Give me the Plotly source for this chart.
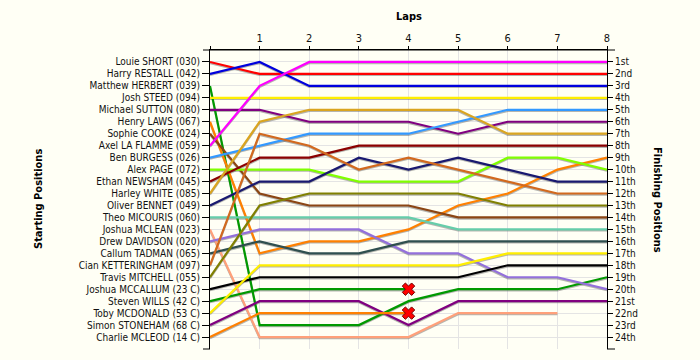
import plotly.graph_objects as go

starting_names = [
    "Louie SHORT (030)", "Harry RESTALL (042)", "Matthew HERBERT (039)", "Josh STEED (094)",
    "Michael SUTTON (080)", "Henry LAWS (067)", "Sophie COOKE (024)", "Axel LA FLAMME (059)",
    "Ben BURGESS (026)", "Alex PAGE (072)", "Ethan NEWSHAM (045)", "Harley WHITE (085)",
    "Oliver BENNET (049)", "Theo MICOURIS (060)", "Joshua MCLEAN (023)", "Drew DAVIDSON (020)",
    "Callum TADMAN (065)", "Cian KETTERINGHAM (097)", "Travis MITCHELL (055)",
    "Joshua MCCALLUM (23 C)", "Steven WILLS (42 C)", "Toby MCDONALD (53 C)",
    "Simon STONEHAM (68 C)", "Charlie MCLEOD (14 C)",
]
finishing_labels = ["1st", "2nd", "3rd", "4th", "5th", "6th", "7th", "8th", "9th", "10th",
                    "11th", "12th", "13th", "14th", "15th", "16th", "17th", "18th", "19th",
                    "20th", "21st", "22nd", "23rd", "24th"]
laps = [0, 1, 2, 3, 4, 5, 6, 7, 8]
lap_labels = ["", "1", "2", "3", "4", "5", "6", "7", "8"]

# position of each driver (in starting order) after each lap; None = not running
pos_lap0 = [1, 2, 3, 4, 5, 6, 7, 8, 9, 10, 11, 12, 13, 14, 15, 16, 17, 18, 19, 20, 21, 22, 23, 24]
pos_lap1 = [2, 1, 23, 4, 5, 17, 12, 3, 8, 10, 9, 6, 11, 14, 24, 15, 16, 7, 13, 19, 20, 18, 21, 22]
pos_lap2 = [2, 3, 23, 4, 6, 16, 13, 1, 7, 10, 9, 5, 11, 14, 24, 15, 17, 8, 12, 19, 20, 18, 21, 22]
pos_lap3 = [2, 3, 23, 4, 6, 16, 13, 1, 7, 11, 8, 5, 9, 14, 24, 15, 17, 10, 12, 19, 20, 18, 21, 22]
pos_lap4 = [2, 3, 21, 4, 6, 15, 13, 1, 7, 11, 8, 5, 10, 14, 24, 17, 16, 9, 12, 19, 20, 18, 23, 22]
pos_lap5 = [2, 3, 20, 4, 7, 13, 14, 1, 6, 11, 8, 5, 9, 15, 22, 17, 16, 10, 12, 19, None, 18, 21, None]
pos_lap6 = [2, 3, 20, 4, 6, 12, 14, 1, 5, 9, 8, 7, 10, 15, 22, 19, 16, 11, 13, 18, None, 17, 21, None]
pos_lap7 = [2, 3, 20, 4, 6, 10, 14, 1, 5, 9, 8, 7, 11, 15, 22, 19, 16, 12, 13, 18, None, 17, 21, None]
pos_lap8 = [2, 3, 19, 4, 6, 9, 14, 1, 5, 10, 8, 7, 11, 15, None, 20, 16, 12, 13, 18, None, 17, 21, None]

# retirements (lap, position)
retired_lap = [4, 4]
retired_pos = [20, 22]

colors = ["#FF0000", "#0000DD", "#009900", "#FFEE00", "#800080", "#FF8000", "#8B4513",
          "#FF00FF", "#3399FF", "#80FF00", "#8B0000", "#DAA520", "#191970", "#66CDAA",
          "#FFA07A", "#9370DB", "#2F4F4F", "#D2691E", "#808000", "#000000",
          "#009900", "#FFEE00", "#800080", "#FF8000"]

all_laps = [pos_lap0, pos_lap1, pos_lap2, pos_lap3, pos_lap4, pos_lap5, pos_lap6, pos_lap7, pos_lap8]

fig = go.Figure()
n = len(starting_names)

# shadows
for i in range(n):
    xs, ys = [], []
    for lap, arr in zip(laps, all_laps):
        if arr[i] is not None:
            xs.append(lap)
            ys.append(arr[i] + 0.1)
    fig.add_trace(go.Scatter(x=xs, y=ys, mode="lines", line=dict(color="rgba(90,90,90,0.45)", width=2),
                             hoverinfo="skip", showlegend=False))

for i in range(n):
    xs, ys = [], []
    for lap, arr in zip(laps, all_laps):
        if arr[i] is not None:
            xs.append(lap)
            ys.append(arr[i])
    fig.add_trace(go.Scatter(x=xs, y=ys, mode="lines", line=dict(color=colors[i], width=2.2),
                             name=starting_names[i], showlegend=False))

fig.add_trace(go.Scatter(x=retired_lap, y=retired_pos, mode="markers",
                         marker=dict(symbol="x", size=11, color="#FF0000",
                                     line=dict(color="#700000", width=1)),
                         showlegend=False, hoverinfo="skip"))

# dummy trace to activate right axis
fig.add_trace(go.Scatter(x=[None], y=[None], yaxis="y2", showlegend=False))

font = "DejaVu Sans Condensed, Liberation Sans, Arial, sans-serif"
grid = "#E4E4E4"
fig.update_layout(
    width=700, height=360,
    margin=dict(l=210, r=93, t=50, b=11, autoexpand=False),
    paper_bgcolor="#FFFFF5", plot_bgcolor="#FFFFF5",
    font=dict(family=font, size=11, color="#000000"),
    showlegend=False,
    xaxis=dict(range=[0, 8], side="top", tickvals=laps, ticktext=lap_labels,
               ticks="outside", ticklen=3, tickcolor="#000000",
               showline=True, linecolor="#000000", linewidth=1,
               showgrid=True, gridcolor=grid, gridwidth=1, zeroline=False,
               tickfont=dict(family=font, size=11, color="#111111")),
    yaxis=dict(range=[25, 0], tickvals=list(range(1, 25)), ticktext=starting_names,
               ticks="outside", ticklen=7, tickcolor="#000000",
               showline=True, linecolor="#000000", linewidth=1,
               showgrid=True, gridcolor=grid, zeroline=False,
               tickfont=dict(family=font, size=10, color="#111111")),
    yaxis2=dict(range=[25, 0], overlaying="y", side="right",
                tickvals=list(range(1, 25)), ticktext=finishing_labels,
                ticks="outside", ticklen=5, tickcolor="#000000",
                showline=True, linecolor="#000000", linewidth=1,
                showgrid=False, zeroline=False,
                tickfont=dict(family=font, size=10, color="#111111")),
    shapes=[
        dict(type="line", xref="paper", yref="paper", x0=-7/397, x1=1+8/397, y0=1, y1=1,
             line=dict(color="#000000", width=1)),
        dict(type="line", xref="paper", yref="paper", x0=-7/397, x1=0, y0=0, y1=0,
             line=dict(color="#000000", width=1)),
        dict(type="line", xref="paper", yref="paper", x0=1, x1=1+8/397, y0=0, y1=0,
             line=dict(color="#000000", width=1)),
    ],
    annotations=[
        dict(text="<b>Laps</b>", xref="paper", yref="paper", x=0.5, y=1, yanchor="bottom",
             yshift=25, showarrow=False, font=dict(family=font, size=11)),
        dict(text="<b>Starting Positions</b>", xref="paper", yref="paper", x=(30-210)/397, y=0.5,
             textangle=-90, showarrow=False, font=dict(family=font, size=11)),
        dict(text="<b>Finishing Positions</b>", xref="paper", yref="paper", x=(666-210)/397, y=0.5,
             textangle=90, showarrow=False, font=dict(family=font, size=11)),
    ],
)

fig.write_html("out.html", config={"displayModeBar": False},
               post_script="document.body.style.margin='0px';")
